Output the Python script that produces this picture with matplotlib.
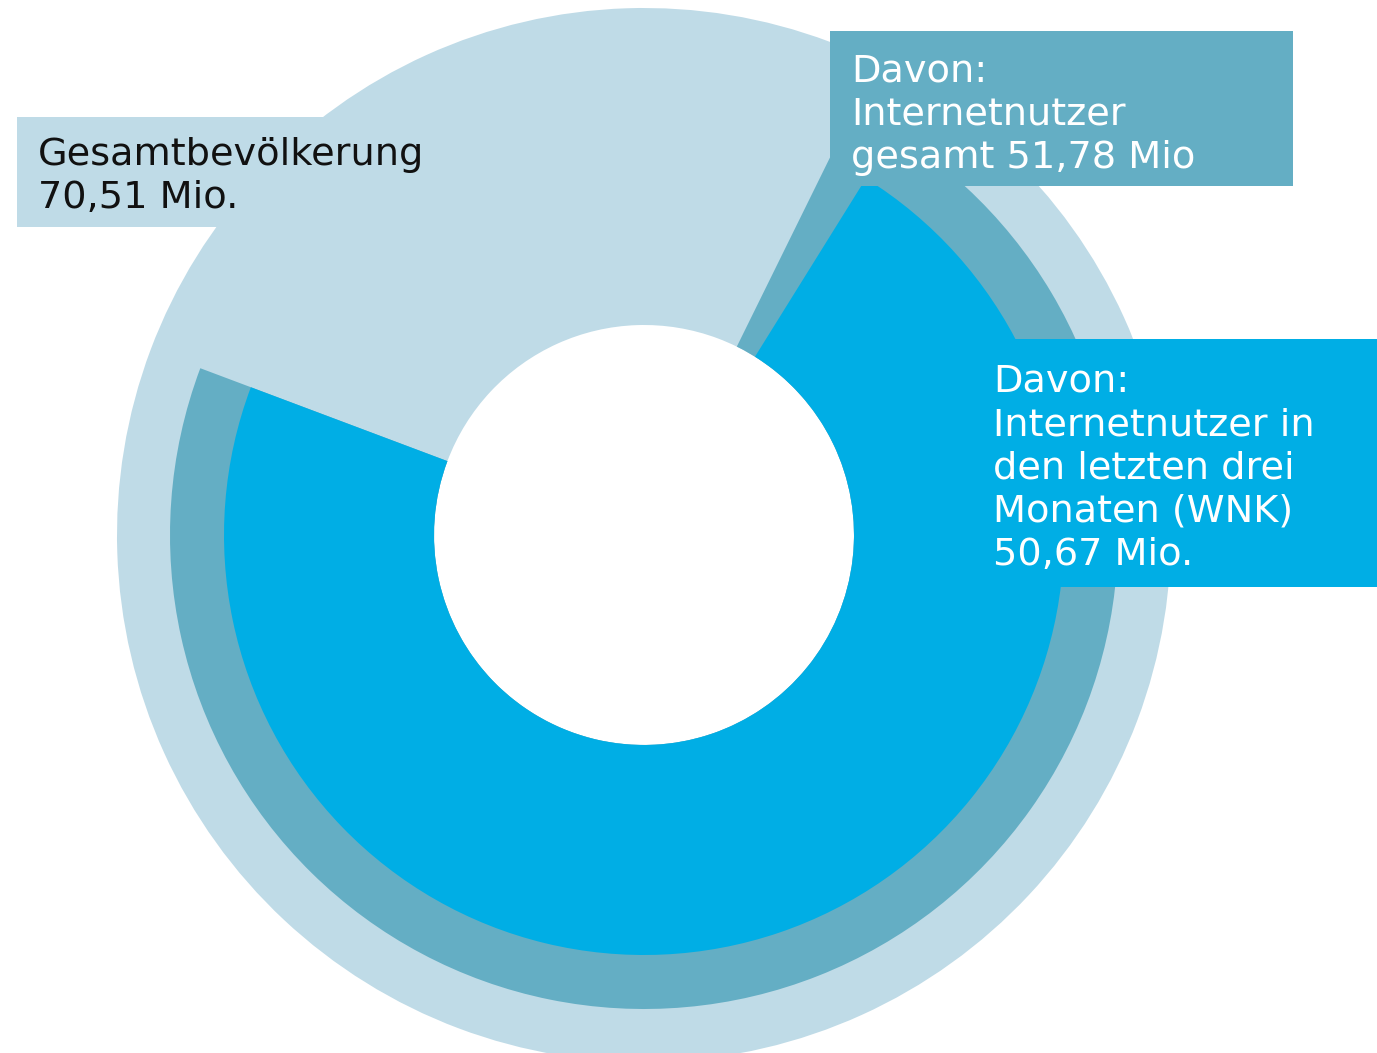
import matplotlib.pyplot as plt
from matplotlib.patches import Rectangle

# ---- Daten ----------------------------------------------------------------
gesamt = 70.51
nutzer_gesamt = 51.78
nutzer_wnk = 50.67

label_gesamt = "Gesamtbevölkerung\n70,51 Mio."
label_nutzer = "Davon:\nInternetnutzer\ngesamt 51,78 Mio"
label_wnk = "Davon:\nInternetnutzer in\nden letzten drei\nMonaten (WNK)\n50,67 Mio."

c_hell = "#BFDBE7"
c_mittel = "#64AEC4"
c_blau = "#00AEE5"

# ---- Figur (Achsen in Pixeln) --------------------------------------------
W, H = 1377, 1053
fig = plt.figure(figsize=(W / 100, H / 100), dpi=100)
ax = fig.add_axes([0, 0, 1, 1])

mitte = (644, H - 535)
r_loch = 210
start = 159.4

ax.pie([gesamt], radius=527, center=mitte, colors=[c_hell],
       startangle=start, counterclock=True,
       wedgeprops=dict(width=527 - r_loch, linewidth=0))
ax.pie([nutzer_gesamt, gesamt - nutzer_gesamt], radius=474, center=mitte,
       colors=[c_mittel, "none"], startangle=start, counterclock=True,
       wedgeprops=dict(width=474 - r_loch, linewidth=0))
ax.pie([nutzer_wnk, gesamt - nutzer_wnk], radius=420, center=mitte,
       colors=[c_blau, "none"], startangle=start, counterclock=True,
       wedgeprops=dict(width=420 - r_loch, linewidth=0))

ax.set_xlim(0, W)
ax.set_ylim(0, H)
ax.set_aspect("equal")
ax.axis("off")

# ---- Beschriftungskästen ---------------------------------------------------
def kasten(x0, y0, x1, y1, farbe):
    ax.add_patch(Rectangle((x0, H - y1), x1 - x0, y1 - y0, facecolor=farbe,
                           edgecolor="none", zorder=5))

kasten(17, 117, 470, 227, c_hell)
kasten(830, 31, 1293, 186, c_mittel)
kasten(975, 339, 1377, 587, c_blau)

# va="baseline" richtet bei mehrzeiligem Text an der letzten Zeile aus
schrift = dict(fontsize=27.5, family="DejaVu Sans", va="baseline", ha="left",
               linespacing=1.26, zorder=6)
ax.text(38, H - 208, label_gesamt, color="#111111", **schrift)
ax.text(851, H - 168, label_nutzer, color="white", **schrift)
ax.text(993, H - 565, label_wnk, color="white", **schrift)

fig.savefig("out.png", dpi=100)
